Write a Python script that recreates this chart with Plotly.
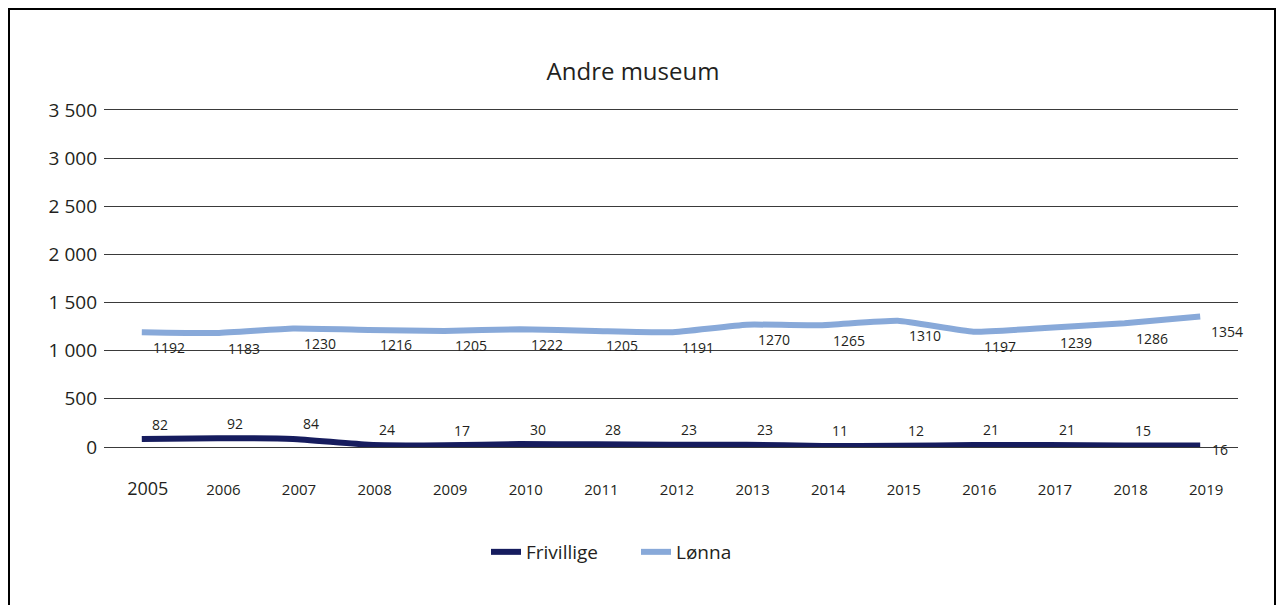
import plotly.graph_objects as go

years = list(range(2005, 2020))
frivillige = [82, 92, 84, 24, 17, 30, 28, 23, 23, 11, 12, 21, 21, 15, 16]
lonna = [1192, 1183, 1230, 1216, 1205, 1222, 1205, 1191, 1270, 1265, 1310, 1197, 1239, 1286, 1354]
y_ticks = [0, 500, 1000, 1500, 2000, 2500, 3000, 3500]
x_labels = [str(y) for y in years]

FONT = "Open Sans, Noto Sans, sans-serif"
TEXT_COLOR = "#231f20"
NAVY = "#161c5e"
LIGHT = "#88a9d9"

# the page puts the figure 8px in from the top-left corner
OFF = 8
W, H = 1284, 605
Y_TOP = 3530
px_per_unit = (447 - 110) / 3500
L = 104 - OFF
T = round(110 - OFF - (Y_TOP - 3500) * px_per_unit)
R = W - (1238 - OFF)
B = H - (447 - OFF)
pw, ph = W - L - R, H - T - B


def px_x(x):
    return (x - OFF - L) / pw


def px_y(y):
    return (H - B - (y - OFF)) / ph


fig = go.Figure()
fig.add_trace(go.Scatter(
    x=years, y=frivillige, name="Frivillige", mode="lines",
    line={"color": NAVY, "width": 6, "shape": "spline", "smoothing": 0.4},
))
fig.add_trace(go.Scatter(
    x=years, y=lonna, name="Lønna", mode="lines",
    line={"color": LIGHT, "width": 6, "shape": "spline", "smoothing": 0.4},
))

label_font = {"size": 14, "color": TEXT_COLOR, "family": FONT}
for i, (yr, v) in enumerate(zip(years, frivillige)):
    last = i == len(years) - 1
    fig.add_annotation(x=yr, y=v, text=str(v), showarrow=False, font=label_font,
                       xshift=20 if last else 18, yshift=-4 if last else 15)
for yr, v in zip(years, lonna):
    fig.add_annotation(x=yr, y=v, text=str(v), showarrow=False, font=label_font,
                       xshift=27, yshift=-15)

fig.update_layout(
    width=W, height=H,
    margin={"l": L, "r": R, "t": T, "b": B},
    paper_bgcolor="white", plot_bgcolor="white",
    separators=", ",
    font={"family": FONT, "color": TEXT_COLOR, "size": 15},
    title={"text": "Andre museum", "x": (633 - OFF) / W, "xanchor": "center",
           "y": 1 - (72 - OFF) / H, "yanchor": "middle", "font": {"size": 24}},
    legend={"orientation": "h", "x": px_x(486), "xanchor": "left",
            "y": px_y(552), "yanchor": "middle", "font": {"size": 19},
            "entrywidth": 105},
    showlegend=True,
)
fig.update_xaxes(
    range=[years[0] - 0.5, years[-1] + 0.5],
    showgrid=False, showline=False, zeroline=False, ticks="",
    tickvals=years,
    ticktext=["<span style='font-size:18px'>2005</span>"] + x_labels[1:],
    tickfont={"size": 15}, ticklabelstandoff=32, ticklabelshift=6,
)
fig.update_yaxes(
    range=[0, Y_TOP], tickvals=y_ticks, tickformat=",d",
    showgrid=True, gridcolor="#3a3a3a", gridwidth=1,
    zeroline=True, zerolinecolor="#3a3a3a", zerolinewidth=1,
    showline=False, ticks="", tickfont={"size": 19}, ticklabelstandoff=6,
)
fig.add_shape(
    type="rect", xref="paper", yref="paper",
    x0=px_x(9), x1=px_x(1275), y0=px_y(620), y1=px_y(9),
    line={"color": "black", "width": 2}, fillcolor="rgba(0,0,0,0)",
)

fig.write_html("out.html")
